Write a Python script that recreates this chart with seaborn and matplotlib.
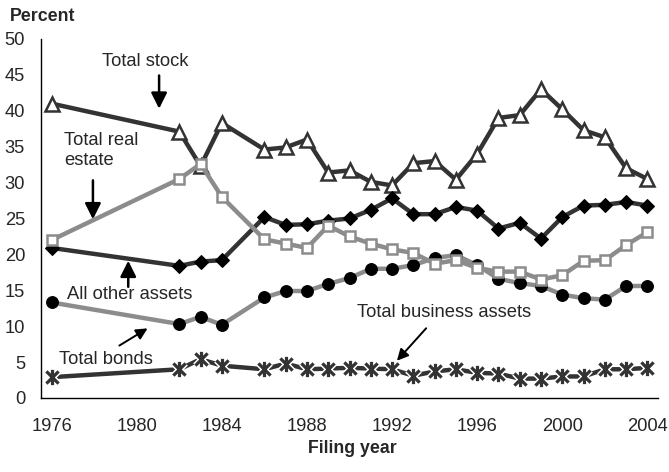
import matplotlib
matplotlib.use('Agg')
import matplotlib.pyplot as plt
from matplotlib.path import Path
import numpy as np
import pandas as pd
import seaborn as sns

# Filing years (no 1985 data point)
years = [1976, 1982, 1983, 1984, 1986, 1987, 1988, 1989, 1990, 1991, 1992, 1993,
         1994, 1995, 1996, 1997, 1998, 1999, 2000, 2001, 2002, 2003, 2004]

total_stock = [41.0, 37.1, 32.3, 38.3, 34.6, 34.9, 36.0, 31.4, 31.7, 30.1, 29.6, 32.7,
               33.0, 30.4, 34.0, 39.0, 39.4, 43.0, 40.2, 37.3, 36.3, 32.0, 30.5]
total_real_estate = [22.0, 30.5, 32.6, 28.0, 22.1, 21.5, 20.9, 24.0, 22.5, 21.5, 20.7, 20.2,
                     18.7, 19.2, 18.1, 17.6, 17.6, 16.5, 17.1, 19.1, 19.2, 21.3, 23.1]
all_other_assets = [20.9, 18.4, 19.0, 19.2, 25.2, 24.1, 24.2, 24.7, 25.0, 26.2, 27.8, 25.6,
                    25.6, 26.6, 26.1, 23.6, 24.4, 22.2, 25.2, 26.8, 26.9, 27.3, 26.8]
total_bonds = [13.3, 10.3, 11.3, 10.2, 14.0, 14.9, 14.9, 15.9, 16.7, 18.0, 18.0, 18.5,
               19.5, 19.9, 18.5, 16.6, 16.0, 15.6, 14.4, 13.9, 13.7, 15.6, 15.6]
total_business = [2.9, 4.0, 5.4, 4.5, 4.0, 4.8, 4.0, 4.1, 4.2, 4.1, 4.0, 3.1,
                  3.7, 4.0, 3.5, 3.4, 2.7, 2.7, 3.0, 3.0, 4.0, 4.0, 4.2]

label_years = [1976, 1980, 1984, 1988, 1992, 1996, 2000, 2004]

df = pd.DataFrame({'year': years, 'stock': total_stock, 'real': total_real_estate,
                   'other': all_other_assets, 'bonds': total_bonds,
                   'business': total_business})

sns.set_style('white')
plt.rcParams['font.family'] = ['Liberation Sans', 'DejaVu Sans']

dark = '#333333'
gray = '#8c8c8c'

# asterisk marker: an X with a vertical stroke
star = Path([(-1, -1), (1, 1), (-1, 1), (1, -1), (0, -1.25), (0, 1.25)],
            [Path.MOVETO, Path.LINETO, Path.MOVETO, Path.LINETO, Path.MOVETO, Path.LINETO])

fig = plt.figure(figsize=(6.69, 4.72), dpi=100)
ax = fig.add_axes([0.0613, 0.1568, 0.9223, 0.7606])

sns.lineplot(data=df, x='year', y='stock', ax=ax, color=dark, lw=3.2,
             marker='^', ms=9.5, mfc='white', mec=dark, mew=1.8, zorder=2)
sns.lineplot(data=df, x='year', y='other', ax=ax, color=dark, lw=3.2,
             marker='D', ms=7, mfc='black', mec='black', zorder=3)
sns.lineplot(data=df, x='year', y='bonds', ax=ax, color=gray, lw=3.2,
             marker='o', ms=8.5, mfc='black', mec='black', zorder=4)
sns.lineplot(data=df, x='year', y='business', ax=ax, color=dark, lw=3.2, zorder=5)
sns.lineplot(data=df, x='year', y='business', ax=ax, color='white', ls='none',
             marker=star, ms=11, mec='white', mew=4.5, zorder=5.1)
sns.lineplot(data=df, x='year', y='business', ax=ax, color=dark, ls='none',
             marker=star, ms=11, mec=dark, mew=2.3, zorder=5.2)
sns.lineplot(data=df, x='year', y='real', ax=ax, color=gray, lw=3.2,
             marker='s', ms=7.5, mfc='white', mec=gray, mew=1.8, zorder=6)

fs = 13.2
ax.set_xlim(1975.5, 2004.5)
ax.set_ylim(0, 50)
ax.set_yticks(range(0, 51, 5))
ax.set_xticks(label_years)
ax.set_xticks([y - 0.5 for y in label_years[1:]], minor=True)
ax.tick_params(axis='x', which='major', length=0, pad=14.5, labelsize=fs)
ax.tick_params(axis='x', which='minor', length=5, direction='in', width=1, color='black')
ax.tick_params(axis='y', length=5, direction='inout', width=1, color='black', pad=9,
               labelsize=fs)
ax.set_xlabel('')
ax.set_ylabel('')
for s in ['top', 'right']:
    ax.spines[s].set_visible(False)
for s in ['left', 'bottom']:
    ax.spines[s].set_color('black')
    ax.spines[s].set_linewidth(1)

arrow = dict(arrowstyle='-|>', color='black', lw=1.8, mutation_scale=24)
thin = dict(arrowstyle='-|>', color='black', lw=1.4, mutation_scale=17)

ax.text(1980.4, 46.9, 'Total stock', fontsize=fs, ha='center', va='center')
ax.annotate('', xy=(1981.05, 39.9), xytext=(1981.05, 45.3), arrowprops=arrow)

ax.text(1976.6, 34.5, 'Total real\nestate', fontsize=fs, ha='left', va='center',
        linespacing=1.25)
ax.annotate('', xy=(1977.94, 24.5), xytext=(1977.94, 30.7), arrowprops=arrow)

ax.text(1976.7, 14.4, 'All other assets', fontsize=fs, ha='left', va='center')
ax.annotate('', xy=(1979.6, 19.5), xytext=(1979.6, 15.1), arrowprops=arrow)

ax.text(1976.35, 5.4, 'Total bonds', fontsize=fs, ha='left', va='center')
ax.annotate('', xy=(1980.62, 9.9), xytext=(1979.07, 7.1), arrowprops=thin)

ax.text(1990.35, 11.9, 'Total business assets', fontsize=fs, ha='left', va='center')
ax.annotate('', xy=(1992.14, 4.9), xytext=(1993.69, 10.0), arrowprops=thin)

fig.text(0.015, 0.964, 'Percent', fontsize=12.8, fontweight='bold', ha='left', va='center')
fig.text(0.526, 0.05, 'Filing year', fontsize=12.8, fontweight='bold', ha='center',
         va='center')

fig.savefig('out.png', dpi=100)
